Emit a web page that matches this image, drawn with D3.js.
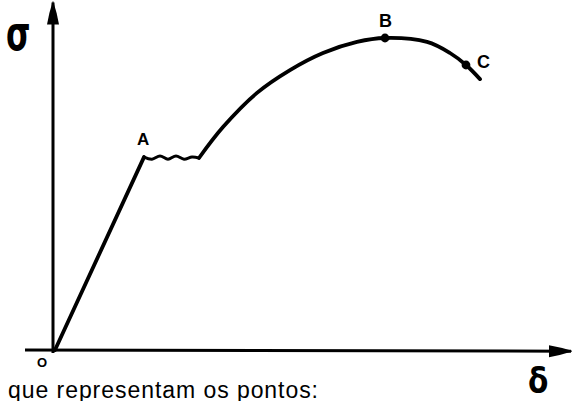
<!DOCTYPE html>
<html>
<head>
<meta charset="utf-8">
<script src="https://cdn.jsdelivr.net/npm/d3@7"></script>
<style>
  html, body { margin: 0; padding: 0; background: #fff; }
  svg { display: block; }
</style>
</head>
<body>
<div id="chart"></div>
<script>
// stress-strain curve, values (arbitrary units)
const elasticStrain = [0, 17.8];
const elasticStress = [0, 64.3];

// yield plateau with its little wiggles
const yieldStrain = [17.8, 19.4, 21.0, 22.6, 24.2, 25.8, 27.4, 28.8];
const yieldStress = [64.3, 63.6, 64.7, 63.6, 64.7, 63.6, 64.3, 64.0];

// hardening + necking
const plasticStrain = [28.8, 33.6, 40.4, 47.0, 53.6, 60.4, 66.0, 74.4, 79.0, 82.2, 85.0];
const plasticStress = [64.0, 74.3, 85.7, 93.3, 99.0, 102.7, 104.0, 102.7, 99.0, 95.0, 90.3];

const pointNames = ["O", "A", "B", "C"];
const pointStrain = [0, 17.8, 66.0, 82.2];
const pointStress = [0, 64.3, 104.0, 95.0];

const caption = "que representam os pontos:";

const width = 572, height = 401;

const svg = d3.select("#chart")
  .append("svg")
    .attr("width", width)
    .attr("height", height);

const x = d3.scaleLinear().domain([0, 100]).range([55, 555]);
const y = d3.scaleLinear().domain([0, 100]).range([350, 50]);

// arrow heads
const defs = svg.append("defs");
defs.append("marker")
    .attr("id", "arrow")
    .attr("viewBox", "0 0 24 14")
    .attr("refX", 22).attr("refY", 7)
    .attr("markerWidth", 24).attr("markerHeight", 14)
    .attr("markerUnits", "userSpaceOnUse")
    .attr("orient", "auto")
  .append("path")
    .attr("d", "M0,1 Q12,3 24,7 Q12,11 0,13 Z")
    .attr("fill", "#000");

// axes (no ticks, just the arrows)
svg.append("line")
    .attr("x1", x(-6)).attr("y1", y(0))
    .attr("x2", x(103.2)).attr("y2", y(-0.4))
    .attr("stroke", "#000").attr("stroke-width", 3)
    .attr("marker-end", "url(#arrow)");

svg.append("line")
    .attr("x1", x(-0.4)).attr("y1", y(-1))
    .attr("x2", x(-0.4)).attr("y2", y(115.8))
    .attr("stroke", "#000").attr("stroke-width", 3)
    .attr("marker-end", "url(#arrow)");

// curve pieces
const zip = (a, b) => a.map((v, i) => [v, b[i]]);

const straight = d3.line().x(d => x(d[0])).y(d => y(d[1]));
const smooth = d3.line().x(d => x(d[0])).y(d => y(d[1])).curve(d3.curveCatmullRom.alpha(0.5));

svg.append("path")
    .attr("d", straight(zip(elasticStrain, elasticStress)))
    .attr("fill", "none").attr("stroke", "#000")
    .attr("stroke-width", 3.8).attr("stroke-linecap", "round");

svg.append("path")
    .attr("d", smooth(zip(yieldStrain, yieldStress)))
    .attr("fill", "none").attr("stroke", "#000")
    .attr("stroke-width", 3).attr("stroke-linecap", "round");

svg.append("path")
    .attr("d", smooth(zip(plasticStrain, plasticStress)))
    .attr("fill", "none").attr("stroke", "#000")
    .attr("stroke-width", 3.8).attr("stroke-linecap", "round");

// dots on B and C
svg.selectAll("circle.pt")
  .data(pointNames.map((n, i) => ({ n, sx: pointStrain[i], sy: pointStress[i] })).filter(d => d.n === "B" || d.n === "C"))
  .enter().append("circle")
    .attr("class", "pt")
    .attr("cx", d => x(d.sx)).attr("cy", d => y(d.sy))
    .attr("r", 4.4).attr("fill", "#000");

// point labels [dx, dy, size]
const labelOffset = { O: [-18, 17, 13], A: [-7, -12, 17], B: [-6, -11, 18], C: [11, 3, 18] };
svg.selectAll("text.lbl")
  .data(pointNames.map((n, i) => ({ n, sx: pointStrain[i], sy: pointStress[i] })))
  .enter().append("text")
    .attr("class", "lbl")
    .attr("x", d => x(d.sx) + labelOffset[d.n][0])
    .attr("y", d => y(d.sy) + labelOffset[d.n][1])
    .attr("font-family", "Liberation Sans, Arial, sans-serif")
    .attr("font-weight", "bold")
    .attr("font-size", d => labelOffset[d.n][2])
    .text(d => d.n);

// axis symbols (hand drawn look: squeezed and stretched a bit)
svg.append("text")
    .attr("transform", "translate(6,50) scale(0.75,1.15)")
    .attr("font-family", "DejaVu Sans, sans-serif")
    .attr("font-weight", "bold")
    .attr("font-size", 42)
    .text("σ");

svg.append("text")
    .attr("transform", "translate(528,393) scale(0.9,1.05)")
    .attr("font-family", "DejaVu Sans, sans-serif")
    .attr("font-weight", "bold")
    .attr("font-size", 33)
    .text("δ");

// caption (runs off the bottom edge like the original)
svg.append("text")
    .attr("x", 8).attr("y", 398)
    .attr("font-family", "Liberation Sans, Arial, sans-serif")
    .attr("font-size", 23)
    .attr("textLength", 310)
    .attr("lengthAdjust", "spacing")
    .text(caption);
</script>
</body>
</html>
